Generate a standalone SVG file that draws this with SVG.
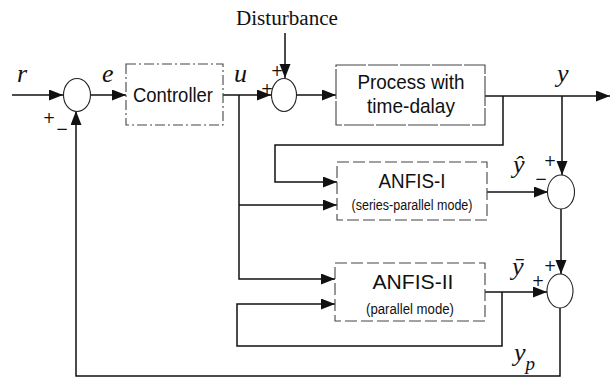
<svg xmlns="http://www.w3.org/2000/svg" width="613" height="378" viewBox="0 0 613 378">
<style>
.ln{fill:none;stroke:#111;stroke-width:1.5}
.box{fill:#fff;stroke:#444;stroke-width:1.1}
.sum{fill:#fff;stroke:#222;stroke-width:1.1}
.sans{font-family:"Liberation Sans",Arial,sans-serif;fill:#111}
.var{font-family:"Liberation Serif","Times New Roman",serif;font-style:italic;font-size:26px;fill:#111}
.sgn{font-family:"DejaVu Sans",sans-serif;font-size:15px;fill:#111;text-anchor:middle}
</style>
<defs>
<marker id="ah" markerUnits="userSpaceOnUse" markerWidth="15" markerHeight="12" refX="14" refY="5.5" orient="auto">
<path d="M0,0 L14,5.5 L0,11 z" fill="#111"/>
</marker>
</defs>
<g id="connectors">
<path class="ln" d="M12,95 H63" marker-end="url(#ah)"/>
<path class="ln" d="M90,95 H126" marker-end="url(#ah)"/>
<path class="ln" d="M223,95 H271" marker-end="url(#ah)"/>
<path class="ln" d="M285,33 V78" marker-end="url(#ah)"/>
<path class="ln" d="M297,95 H336" marker-end="url(#ah)"/>
<path class="ln" d="M485,96 H610" marker-end="url(#ah)"/>
<path class="ln" d="M562,96 V175" marker-end="url(#ah)"/>
<path class="ln" d="M503,96 V145 H275 V182 H337" marker-end="url(#ah)"/>
<path class="ln" d="M239,95 V279 H335" marker-end="url(#ah)"/>
<path class="ln" d="M239,205 H337" marker-end="url(#ah)"/>
<path class="ln" d="M487,192 H548" marker-end="url(#ah)"/>
<path class="ln" d="M561,209 V274" marker-end="url(#ah)"/>
<path class="ln" d="M485,292 H547" marker-end="url(#ah)"/>
<path class="ln" d="M502,292 V346 H237 V304 H335" marker-end="url(#ah)"/>
<path class="ln" d="M560,308 V376 H76 V111" marker-end="url(#ah)"/>
</g>
<g id="sum1">
<ellipse class="sum" cx="77" cy="95" rx="13.5" ry="16.5"/>
<text class="sgn" x="49" y="123">+</text>
<text class="sgn" x="62" y="134">−</text>
</g>
<g id="controller">
<rect class="box" x="126" y="64" width="97" height="61" stroke-dasharray="10 3 2 3"/>
<text class="sans" x="173" y="102" font-size="21" text-anchor="middle" textLength="80" lengthAdjust="spacingAndGlyphs">Controller</text>
</g>
<g id="sum2">
<ellipse class="sum" cx="284" cy="95" rx="12.5" ry="16.5"/>
<text class="sgn" x="277" y="76">+</text>
<text class="sgn" x="267" y="94">+</text>
</g>
<g id="disturbance">
<text x="287" y="25" font-family="Liberation Serif,Times New Roman,serif" font-size="20" fill="#111" text-anchor="middle" textLength="102" lengthAdjust="spacingAndGlyphs">Disturbance</text>
</g>
<g id="process">
<rect class="box" x="336" y="65" width="149" height="60" stroke-dasharray="30 2"/>
<text class="sans" x="411" y="89" font-size="21" text-anchor="middle" textLength="107" lengthAdjust="spacingAndGlyphs">Process with</text>
<text class="sans" x="411" y="113" font-size="21" text-anchor="middle" textLength="88" lengthAdjust="spacingAndGlyphs">time-dalay</text>
</g>
<g id="anfis1">
<rect class="box" x="337" y="162" width="150" height="58" stroke-dasharray="12 4"/>
<text class="sans" x="412" y="188" font-size="21" text-anchor="middle" textLength="67" lengthAdjust="spacingAndGlyphs">ANFIS-I</text>
<text class="sans" x="412" y="210" font-size="14" text-anchor="middle" textLength="121" lengthAdjust="spacingAndGlyphs">(series-parallel mode)</text>
</g>
<g id="anfis2">
<rect class="box" x="335" y="263" width="150" height="58" stroke-dasharray="12 4"/>
<text class="sans" x="413" y="289" font-size="21" text-anchor="middle" textLength="81" lengthAdjust="spacingAndGlyphs">ANFIS-II</text>
<text class="sans" x="410" y="314" font-size="14" text-anchor="middle" textLength="88" lengthAdjust="spacingAndGlyphs">(parallel mode)</text>
</g>
<g id="sum3">
<ellipse class="sum" cx="561" cy="192" rx="13.5" ry="17"/>
<text class="sgn" x="550" y="166">+</text>
<text class="sgn" x="541" y="184">−</text>
</g>
<g id="sum4">
<ellipse class="sum" cx="560" cy="291" rx="13" ry="17"/>
<text class="sgn" x="550" y="271">+</text>
<text class="sgn" x="538" y="286">+</text>
</g>
<g id="labels">
<text class="var" x="17" y="82">r</text>
<text class="var" x="102" y="82">e</text>
<text class="var" x="234" y="82">u</text>
<text class="var" x="557" y="82">y</text>
<text class="var" x="513" y="173">ŷ</text>
<text class="var" x="512" y="275">ȳ</text>
<text class="var" x="514" y="361">y<tspan font-size="19" dy="9">p</tspan></text>
</g>
</svg>
